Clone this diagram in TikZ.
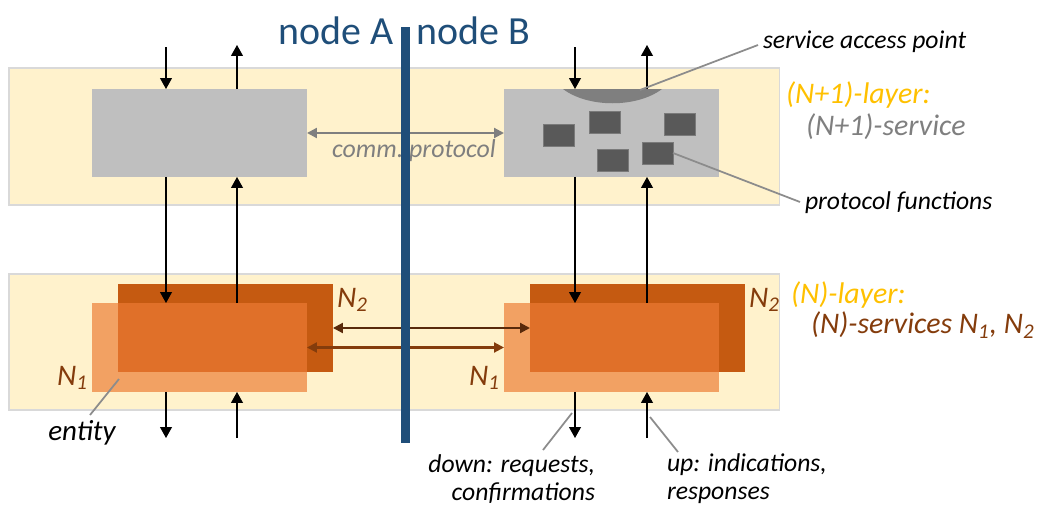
\documentclass[tikz,border=0pt]{standalone}
\usepackage{fontspec}
\setmainfont{Carlito}
\usetikzlibrary{arrows.meta}
\definecolor{bandfill}{HTML}{FFF2CC}
\definecolor{bandline}{HTML}{D9D9D9}
\definecolor{boxgray}{HTML}{BFBFBF}
\definecolor{fgray}{HTML}{595959}
\definecolor{sapgray}{HTML}{7F7F7F}
\definecolor{nblue}{HTML}{1F4E79}
\definecolor{gold}{HTML}{FFC000}
\definecolor{ltxt}{HTML}{7F7F7F}
\definecolor{brn}{HTML}{843C0C}
\definecolor{dbrn}{HTML}{592A0B}
\definecolor{nlight}{HTML}{F2A163}
\definecolor{ndark}{HTML}{C55A11}
\definecolor{nmid}{HTML}{E07029}
\definecolor{callout}{HTML}{8C8C8C}
\begin{document}
\begin{tikzpicture}[x=0.02cm,y=-0.02cm,
  rectnode/.style={inner sep=0, outer sep=0, anchor=north west},
  bandbox/.style={rectnode, fill=bandfill, draw=bandline, line width=0.6pt, minimum width=15.42cm},
  graybox/.style={rectnode, fill=boxgray, minimum width=4.3cm, minimum height=1.76cm},
  entbox/.style={rectnode, minimum width=4.3cm},
  fbox/.style={rectnode, fill=fgray, draw=fgray!80!white, line width=0.3pt, minimum width=0.62cm, minimum height=0.44cm},
  arr/.style={-{Triangle[length=0.22cm,width=0.24cm]}, line width=0.6pt, black},
  garr/.style={{Triangle[length=0.2cm,width=0.2cm]}-{Triangle[length=0.2cm,width=0.2cm]}, line width=1.2pt, sapgray},
  barr/.style={{Triangle[length=0.2cm,width=0.2cm]}-{Triangle[length=0.2cm,width=0.2cm]}, line width=1.2pt},
  lbl/.style={inner sep=0, outer sep=0, font=\fontsize{14.6}{15.9}\selectfont\itshape},
  big/.style={inner sep=0, outer sep=0, font=\fontsize{17}{20}\selectfont\itshape},
  call/.style={draw=callout, line width=1pt}
]
\useasboundingbox (0,0) rectangle (1040,507);

% bands
\node[bandbox, minimum height=2.74cm] (bandU) at (9,68) {};
\node[bandbox, minimum height=2.72cm] (bandL) at (9,274) {};

% upper boxes
\node[graybox] (grayA) at (92,89) {};
\node[graybox] (grayB) at (504,89) {};

% service access point
\fill[sapgray] (563,89) .. controls (588,108) and (637,108) .. (662,89) -- cycle;
\coordinate (sapP) at (640,90);

% protocol functions
\node[fbox] (f1) at (543,124) {};
\node[fbox] (f2) at (589,111) {};
\node[fbox] (f3) at (664,113) {};
\node[fbox] (f4) at (597,149) {};
\node[fbox] (f5) at (642,142) {};

% lower entities A
\node[entbox, fill=nlight, minimum height=1.78cm] (N1A) at (92,303) {};
\node[entbox, fill=ndark, minimum height=1.76cm] (N2A) at (118,284) {};
\node[rectnode, fill=nmid, minimum width=3.78cm, minimum height=1.38cm] (OA) at (118,303) {};
% lower entities B
\node[entbox, fill=nlight, minimum height=1.78cm] (N1B) at (504,303) {};
\node[entbox, fill=ndark, minimum height=1.76cm] (N2B) at (530,284) {};
\node[rectnode, fill=nmid, minimum width=3.78cm, minimum height=1.38cm] (OB) at (530,303) {};

% vertical arrows, node A
\coordinate (aTopIn) at (166,47);
\coordinate (aTopOut) at (237,45);
\coordinate (aBotOut) at (166,438);
\coordinate (aBotIn) at (237,438);
\draw[arr] (aTopIn) -- (aTopIn |- grayA.north);
\draw[arr] (aTopOut |- grayA.north) -- (aTopOut);
\draw[arr] (aTopIn |- grayA.south) -- (aTopIn |- N1A.north);
\draw[arr] (aTopOut |- N1A.north) -- (aTopOut |- grayA.south);
\draw[arr] (aBotOut |- N1A.south) -- (aBotOut);
\draw[arr] (aBotIn) -- (aBotIn |- N1A.south);

% vertical arrows, node B
\coordinate (bTopIn) at (575,47);
\coordinate (bTopOut) at (647,45);
\coordinate (bBotOut) at (575,438);
\coordinate (bBotIn) at (647,438);
\draw[arr] (bTopIn) -- (bTopIn |- grayB.north);
\draw[arr] (bTopOut |- grayB.north) -- (bTopOut);
\draw[arr] (bTopIn |- grayB.south) -- (bTopIn |- N1B.north);
\draw[arr] (bTopOut |- N1B.north) -- (bTopOut |- grayB.south);
\draw[arr] (bBotOut |- N1B.south) -- (bBotOut);
\draw[arr] (bBotIn) -- (bBotIn |- N1B.south);

% horizontal protocol arrows
\draw[garr] (grayA.east) -- (grayB.west);
\node[inner sep=0, font=\fontsize{14.7}{16}\selectfont\itshape, text=ltxt] (comm) at (414,151) {comm.\ protocol};
\draw[barr, dbrn] (N2A.east) -- (N2B.west);
\draw[barr, brn] (N1A.east) -- (N1B.west);

% divider
\coordinate (divT) at (405,27);
\coordinate (divB) at (405,443);
\draw[nblue, line width=0.18cm] (divT) -- (divB);
\node[inner sep=0, anchor=base east, text=nblue, font=\fontsize{22.7}{26}\selectfont] (nodeA) at (394,44) {node A};
\node[inner sep=0, anchor=base west, text=nblue, font=\fontsize{22.7}{26}\selectfont] (nodeB) at (416,44) {node B};

% right labels
\node[lbl, anchor=west] (sapL) at (763,42) {service access point};
\node[big, anchor=west, text=gold] (l1) at (786,95) {(N+1)-layer:};
\node[big, anchor=west, text=ltxt] (s1) at (806,127) {(N+1)-service};
\node[lbl, anchor=west] (pfL) at (805,203) {protocol functions};
\node[big, anchor=west, text=gold] (l0) at (791,295) {(N)-layer:};
\node[big, anchor=west, text=brn] (s0) at (811,325) {(N)-services N\textsubscript{1}, N\textsubscript{2}};

% entity labels
\node[big, anchor=west, text=brn] (n2a) at (337,300) {N\textsubscript{2}};
\node[big, anchor=west, text=brn] (n2b) at (749,300) {N\textsubscript{2}};
\node[big, anchor=west, text=brn] (n1a) at (57,378) {N\textsubscript{1}};
\node[big, anchor=west, text=brn] (n1b) at (469,378) {N\textsubscript{1}};
\node[inner sep=0, anchor=west, font=\fontsize{16.5}{18}\selectfont\itshape] (entL) at (48,433) {entity};
\node[lbl, anchor=east, align=right] (downL) at (595,479) {down: requests,\\confirmations};
\node[lbl, anchor=west, align=left] (upL) at (667,479) {up: indications,\\responses};

% callouts
\draw[call] (sapP) -- (758,45) coordinate (sapE);
\draw[call] (f5.east) -- (800,202) coordinate (pfE);
\coordinate (entP) at (119,379);
\coordinate (entE) at (90,415);
\draw[call] (entP) -- (entE);
\coordinate (downP) at (572,413);
\coordinate (downE) at (543,450);
\draw[call] (downP) -- (downE);
\coordinate (upP) at (650,417);
\coordinate (upE) at (678,452);
\draw[call] (upP) -- (upE);
\end{tikzpicture}
\end{document}
